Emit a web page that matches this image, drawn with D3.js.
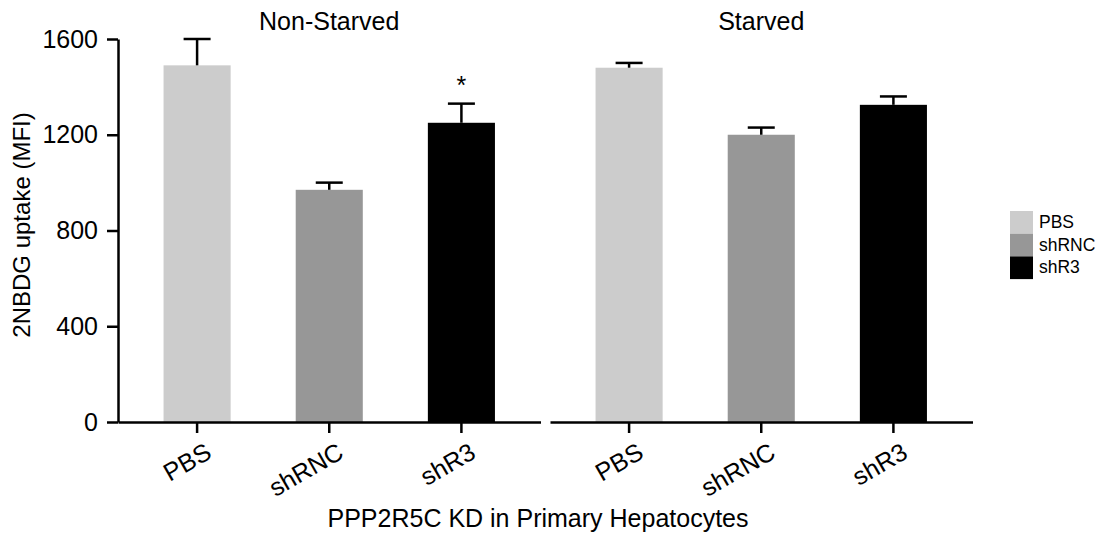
<!DOCTYPE html>
<html>
<head>
<meta charset="utf-8">
<script src="https://cdn.jsdelivr.net/npm/d3@7/dist/d3.min.js"></script>
<style>
  body { margin: 0; background: #fff; }
  svg { display: block; font-family: "Liberation Sans", Arial, Helvetica, sans-serif; }
</style>
</head>
<body>
<svg id="chart" width="1100" height="533"></svg>
<script>
const panels = ["Non-Starved", "Starved"];
const categories = ["PBS", "shRNC", "shR3"];
const nonStarvedMeans = [1490, 970, 1250];
const nonStarvedErrors = [110, 30, 80];
const starvedMeans = [1480, 1200, 1325];
const starvedErrors = [20, 30, 35];
const significance = ["", "", "*"];
const yTicks = [0, 400, 800, 1200, 1600];
const colors = ["#cccccc", "#979797", "#000000"];
const yLabel = "2NBDG uptake (MFI)";
const xLabel = "PPP2R5C KD in Primary Hepatocytes";

const FONT = "Liberation Sans, Arial, sans-serif";
const svg = d3.select("#chart");
const y = d3.scaleLinear().domain([0, 1600]).range([422, 39]);

const panelData = [
  { name: panels[0], means: nonStarvedMeans, errs: nonStarvedErrors, sig: significance, range: [118, 540.5] },
  { name: panels[1], means: starvedMeans, errs: starvedErrors, sig: ["", "", ""], range: [550, 972.5] }
];

// Y axis
const yAxis = d3.axisLeft(y).tickValues(yTicks).tickSize(11).tickSizeOuter(0).tickPadding(9).tickFormat(d3.format("d"));
const yg = svg.append("g").attr("transform", "translate(118,0)").call(yAxis);
yg.select(".domain").attr("stroke", "#000").attr("stroke-width", 2.5);
yg.selectAll(".tick line").attr("stroke", "#000").attr("stroke-width", 2.5);
yg.selectAll(".tick text").attr("font-size", 25).attr("fill", "#000").attr("font-family", FONT);

panelData.forEach(p => {
  const x = d3.scaleBand().domain(categories).range(p.range).paddingInner(0.4924).paddingOuter(0.3447);
  const g = svg.append("g");
  // bars
  g.selectAll("rect.bar").data(categories).enter().append("rect")
    .attr("x", d => x(d))
    .attr("width", x.bandwidth())
    .attr("y", (d, i) => y(p.means[i]))
    .attr("height", (d, i) => y(0) - y(p.means[i]))
    .attr("fill", (d, i) => colors[i]);
  // error bars
  categories.forEach((c, i) => {
    const cx = x(c) + x.bandwidth() / 2;
    g.append("line").attr("x1", cx).attr("x2", cx)
      .attr("y1", y(p.means[i])).attr("y2", y(p.means[i] + p.errs[i]))
      .attr("stroke", "#000").attr("stroke-width", 2.5);
    g.append("line").attr("x1", cx - 13.5).attr("x2", cx + 13.5)
      .attr("y1", y(p.means[i] + p.errs[i])).attr("y2", y(p.means[i] + p.errs[i]))
      .attr("stroke", "#000").attr("stroke-width", 2.5);
    if (p.sig[i]) {
      g.append("text").attr("x", cx).attr("y", y(p.means[i] + p.errs[i]) - 10)
        .attr("text-anchor", "middle").attr("font-size", 25).text(p.sig[i]);
    }
  });
  // x axis
  const xAxis = d3.axisBottom(x).tickSize(11).tickSizeOuter(0).tickPadding(6);
  const xg = svg.append("g").attr("transform", `translate(0,${y(0)})`).call(xAxis);
  xg.select(".domain").attr("stroke", "#000").attr("stroke-width", 2.5);
  xg.selectAll(".tick line").attr("stroke", "#000").attr("stroke-width", 2.5);
  xg.selectAll(".tick text")
    .attr("font-size", 25).attr("fill", "#000").attr("font-family", FONT)
    .attr("text-anchor", "end")
    .attr("x", 0).attr("y", 0).attr("dy", 0)
    .attr("transform", "translate(16,35) rotate(-30)");
  // panel title
  const mid = (x(categories[0]) + x(categories[2]) + x.bandwidth()) / 2;
  svg.append("text").attr("x", mid).attr("y", 30).attr("text-anchor", "middle")
    .attr("font-size", 25).text(p.name);
});

// axis labels
svg.append("text").attr("transform", "translate(30,225) rotate(-90)")
  .attr("text-anchor", "middle").attr("font-size", 24).text(yLabel);
svg.append("text").attr("x", 538).attr("y", 527).attr("text-anchor", "middle")
  .attr("font-size", 25).text(xLabel);

// legend
const lg = svg.append("g").attr("transform", "translate(1010,211)");
categories.forEach((c, i) => {
  lg.append("rect").attr("x", 0).attr("y", i * 22.7).attr("width", 23).attr("height", 22.7).attr("fill", colors[i]);
  lg.append("text").attr("x", 29).attr("y", i * 22.7 + 17).attr("font-size", 17.5).text(c);
});
</script>
</body>
</html>
